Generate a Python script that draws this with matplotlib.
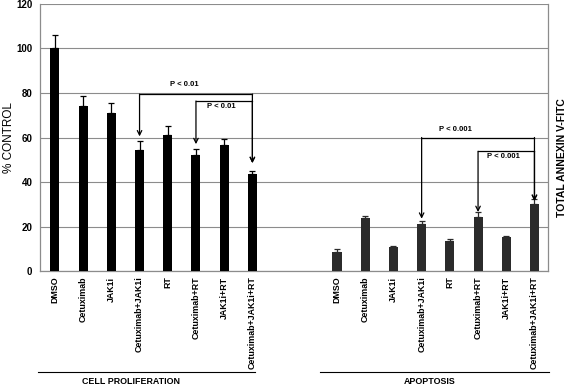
"""
Cell proliferation and apoptosis bars with significance brackets.
"""
import matplotlib
matplotlib.use("Agg")
import matplotlib.pyplot as plt
import matplotlib.transforms as mtransforms

plt.rcParams["font.family"] = ["Liberation Sans", "DejaVu Sans"]

# ── data ────────────────────────────────────────────
treatments = ["DMSO", "Cetuximab", "JAK1i", "Cetuximab+JAK1i", "RT",
              "Cetuximab+RT", "JAK1i+RT", "Cetuximab+JAK1i+RT"]
prolif_vals = [100, 74, 71, 54.5, 61, 52, 56.5, 43.5]
prolif_err = [6, 4.5, 4.5, 4, 4, 3, 3, 1.5]
apop_vals = [8.7, 23.7, 10.6, 21.1, 13.6, 24.4, 15.1, 30]
apop_err = [1.2, 1.2, 0.5, 1.5, 0.6, 2.2, 0.5, 2.5]
group_names = ["CELL PROLIFERATION", "APOPTOSIS"]
yticks = [0, 20, 40, 60, 80, 100, 120]

# significance brackets:
# (from idx, to idx, bracket y, arrow tip from, arrow tip to, label, label x, label y)
prolif_sig = [(3, 7, 79.5, 60.5, 48.5, "P < 0.01", 4.6, 84),
              (5, 7, 76.4, 57, 48.5, "P < 0.01", 5.9, 74)]
apop_sig = [(3, 7, 60, 23.5, 31.5, "P < 0.001", 4.2, 63.4),
            (5, 7, 53.8, 26.5, 31.5, "P < 0.001", 5.9, 51.6)]

GAP = 10  # x offset of the apoptosis group
x_left = list(range(len(treatments)))
x_right = [GAP + i for i in x_left]

fig = plt.figure(figsize=(5.67, 3.87), dpi=100)
ax = fig.add_axes([0.0705, 0.2997, 0.896, 0.69])

bw = 0.32
ax.bar(x_left, prolif_vals, width=bw, color="black", zorder=3)
ax.errorbar(x_left, prolif_vals, yerr=[[0] * 8, prolif_err], fmt="none",
            ecolor="black", elinewidth=0.9, capsize=2.2, capthick=0.9, zorder=4)
ax.bar(x_right, apop_vals, width=bw, color="#2b2b2b", zorder=3)
ax.errorbar(x_right, apop_vals, yerr=[[0] * 8, apop_err], fmt="none",
            ecolor="#2b2b2b", elinewidth=0.9, capsize=2.2, capthick=0.9, zorder=4)

ax.set_xlim(-0.53, 17.48)
ax.set_ylim(0, 120)
ax.set_yticks(yticks)
ax.set_yticklabels([str(t) for t in yticks], fontsize=7, fontweight="bold")
ax.yaxis.grid(True, color="#8c8c8c", linewidth=0.8, zorder=0)
ax.tick_params(axis="y", length=0, pad=5.5)
ax.set_xticks(x_left + x_right)
ax.set_xticklabels(treatments + treatments, rotation=90, fontsize=6.4,
                   fontweight="bold")
ax.tick_params(axis="x", length=0, pad=4)
for side in ["left", "right", "bottom"]:
    ax.spines[side].set_color("#8c8c8c")
    ax.spines[side].set_linewidth(0.9)
ax.spines["top"].set_visible(False)

ax.set_ylabel("% CONTROL", fontsize=8.5)
ax.yaxis.set_label_coords(-0.05, 0.5)
fig.text(0.991, 0.592, "TOTAL ANNEXIN V-FITC", rotation=90, fontsize=7.5,
         fontweight="bold", ha="center", va="center")

# ── significance brackets ───────────────────────────
for offset, sigs in [(0, prolif_sig), (GAP, apop_sig)]:
    for i0, i1, yb, tip0, tip1, label, lx, ly in sigs:
        xa, xb = offset + i0, offset + i1
        ax.plot([xa, xb], [yb, yb], color="black", lw=0.9, zorder=5)
        for xx, tip in [(xa, tip0), (xb, tip1)]:
            ax.annotate("", xy=(xx, tip), xytext=(xx, yb),
                        arrowprops=dict(arrowstyle="->", color="black", lw=0.9,
                                        shrinkA=0, shrinkB=0,
                                        mutation_scale=8), zorder=5)
        ax.text(offset + lx, ly, label, fontsize=5.5, fontweight="bold",
                ha="center", va="center", zorder=6)

# ── group underlines and names ──────────────────────
trans = mtransforms.blended_transform_factory(ax.transData, fig.transFigure)
for (xs, xe), xc, name in zip([(-0.6, 7.1), (9.4, 17.5)], [2.7, 13.3],
                              group_names):
    ax.plot([xs, xe], [0.039, 0.039], color="black", lw=0.8,
            transform=trans, clip_on=False)
    ax.text(xc, 0.013, name, transform=trans, fontsize=6.4, fontweight="bold",
            ha="center", va="center")

fig.savefig("out.png", dpi=100)
